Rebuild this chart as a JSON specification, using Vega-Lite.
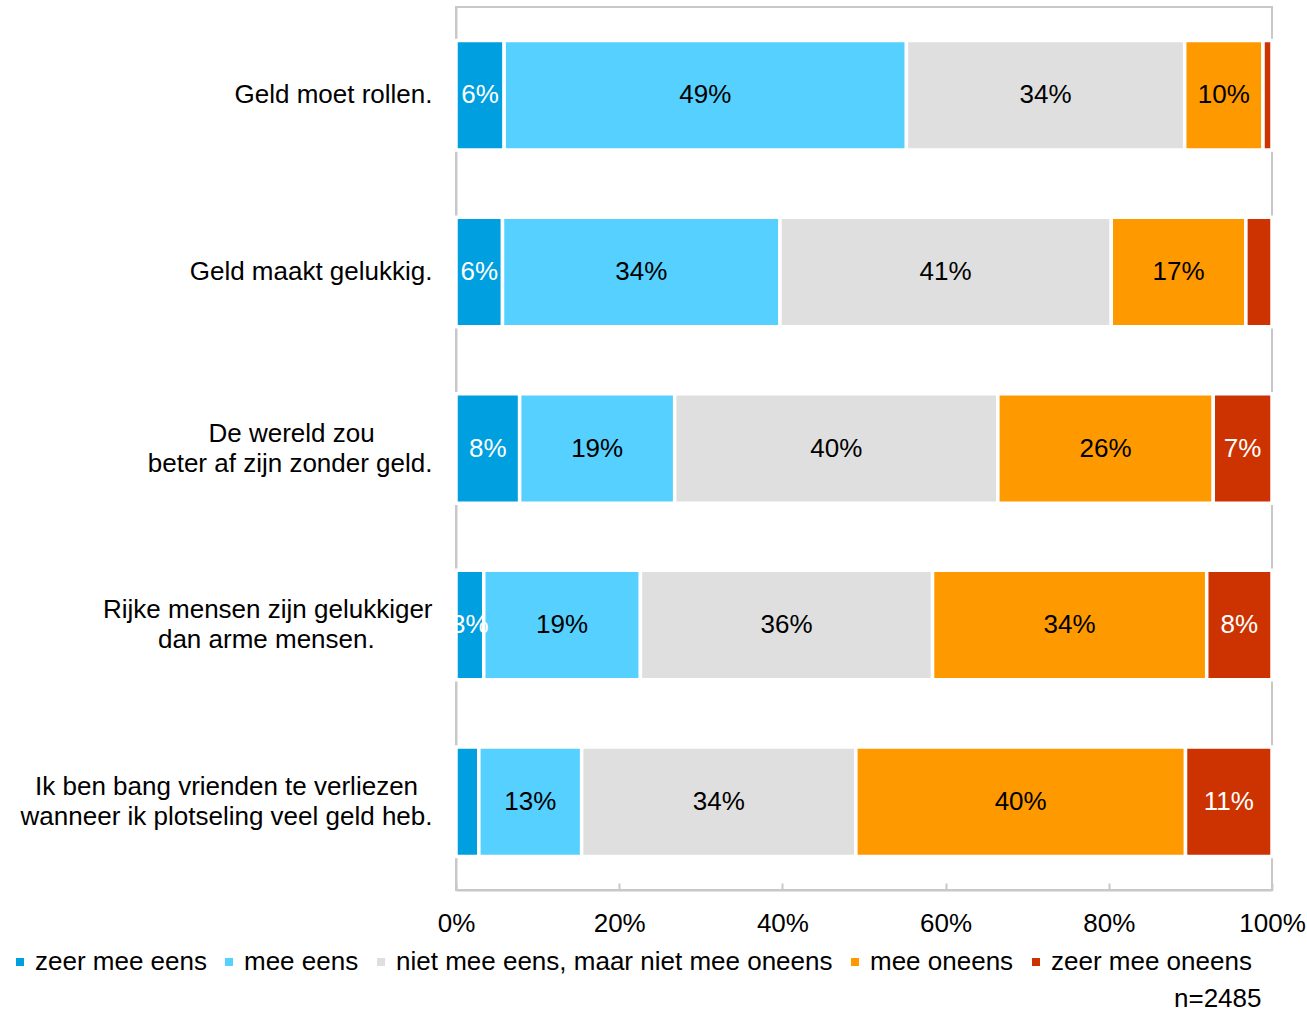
{
  "$schema": "https://vega.github.io/schema/vega-lite/v6.json",
  "width": 816,
  "height": 883,
  "autosize": {"type": "none"},
  "padding": {"left": 456, "top": 7, "right": 35, "bottom": 122},
  "background": "white",
  "config": {
    "font": "Liberation Sans",
    "view": {"stroke": "#c8c8c8", "strokeWidth": 2}
  },
  "data": {
    "values": [
      {"statement": "Geld moet rollen.", "answer": "zeer mee eens", "k": 1, "value": 5.9, "label": "6%"},
      {"statement": "Geld moet rollen.", "answer": "mee eens", "k": 2, "value": 49.3, "label": "49%"},
      {"statement": "Geld moet rollen.", "answer": "niet mee eens, maar niet mee oneens", "k": 3, "value": 34.1, "label": "34%"},
      {"statement": "Geld moet rollen.", "answer": "mee oneens", "k": 4, "value": 9.6, "label": "10%"},
      {"statement": "Geld moet rollen.", "answer": "zeer mee oneens", "k": 5, "value": 1.1, "label": ""},
      {"statement": "Geld maakt gelukkig.", "answer": "zeer mee eens", "k": 1, "value": 5.7, "label": "6%"},
      {"statement": "Geld maakt gelukkig.", "answer": "mee eens", "k": 2, "value": 34.0, "label": "34%"},
      {"statement": "Geld maakt gelukkig.", "answer": "niet mee eens, maar niet mee oneens", "k": 3, "value": 40.6, "label": "41%"},
      {"statement": "Geld maakt gelukkig.", "answer": "mee oneens", "k": 4, "value": 16.5, "label": "17%"},
      {"statement": "Geld maakt gelukkig.", "answer": "zeer mee oneens", "k": 5, "value": 3.2, "label": ""},
      {"statement": "De wereld zou\u00a0\u00a0\u00a0\u00a0\u00a0\u00a0\u00a0\u00a0\u200b|beter af zijn zonder geld.", "answer": "zeer mee eens", "k": 1, "value": 7.8, "label": "8%"},
      {"statement": "De wereld zou\u00a0\u00a0\u00a0\u00a0\u00a0\u00a0\u00a0\u00a0\u200b|beter af zijn zonder geld.", "answer": "mee eens", "k": 2, "value": 19.0, "label": "19%"},
      {"statement": "De wereld zou\u00a0\u00a0\u00a0\u00a0\u00a0\u00a0\u00a0\u00a0\u200b|beter af zijn zonder geld.", "answer": "niet mee eens, maar niet mee oneens", "k": 3, "value": 39.6, "label": "40%"},
      {"statement": "De wereld zou\u00a0\u00a0\u00a0\u00a0\u00a0\u00a0\u00a0\u00a0\u200b|beter af zijn zonder geld.", "answer": "mee oneens", "k": 4, "value": 26.4, "label": "26%"},
      {"statement": "De wereld zou\u00a0\u00a0\u00a0\u00a0\u00a0\u00a0\u00a0\u00a0\u200b|beter af zijn zonder geld.", "answer": "zeer mee oneens", "k": 5, "value": 7.2, "label": "7%"},
      {"statement": "Rijke mensen zijn gelukkiger|dan arme mensen.\u00a0\u00a0\u00a0\u00a0\u00a0\u00a0\u00a0\u00a0\u200b", "answer": "zeer mee eens", "k": 1, "value": 3.4, "label": "3%"},
      {"statement": "Rijke mensen zijn gelukkiger|dan arme mensen.\u00a0\u00a0\u00a0\u00a0\u00a0\u00a0\u00a0\u00a0\u200b", "answer": "mee eens", "k": 2, "value": 19.2, "label": "19%"},
      {"statement": "Rijke mensen zijn gelukkiger|dan arme mensen.\u00a0\u00a0\u00a0\u00a0\u00a0\u00a0\u00a0\u00a0\u200b", "answer": "niet mee eens, maar niet mee oneens", "k": 3, "value": 35.8, "label": "36%"},
      {"statement": "Rijke mensen zijn gelukkiger|dan arme mensen.\u00a0\u00a0\u00a0\u00a0\u00a0\u00a0\u00a0\u00a0\u200b", "answer": "mee oneens", "k": 4, "value": 33.6, "label": "34%"},
      {"statement": "Rijke mensen zijn gelukkiger|dan arme mensen.\u00a0\u00a0\u00a0\u00a0\u00a0\u00a0\u00a0\u00a0\u200b", "answer": "zeer mee oneens", "k": 5, "value": 8.0, "label": "8%"},
      {"statement": "Ik ben bang vrienden te verliezen\u00a0\u00a0\u200b|wanneer ik plotseling veel geld heb.", "answer": "zeer mee eens", "k": 1, "value": 2.8, "label": ""},
      {"statement": "Ik ben bang vrienden te verliezen\u00a0\u00a0\u200b|wanneer ik plotseling veel geld heb.", "answer": "mee eens", "k": 2, "value": 12.6, "label": "13%"},
      {"statement": "Ik ben bang vrienden te verliezen\u00a0\u00a0\u200b|wanneer ik plotseling veel geld heb.", "answer": "niet mee eens, maar niet mee oneens", "k": 3, "value": 33.6, "label": "34%"},
      {"statement": "Ik ben bang vrienden te verliezen\u00a0\u00a0\u200b|wanneer ik plotseling veel geld heb.", "answer": "mee oneens", "k": 4, "value": 40.4, "label": "40%"},
      {"statement": "Ik ben bang vrienden te verliezen\u00a0\u00a0\u200b|wanneer ik plotseling veel geld heb.", "answer": "zeer mee oneens", "k": 5, "value": 10.6, "label": "11%"}
    ]
  },
  "transform": [
    {"stack": "value", "groupby": ["statement"], "sort": [{"field": "k", "order": "ascending"}], "as": ["v0", "v1"]},
    {"calculate": "(datum.v0 + datum.v1) / 2", "as": "mid"}
  ],
  "encoding": {
    "y": {
      "field": "statement",
      "type": "nominal",
      "sort": null,
      "scale": {"paddingInner": 0.38, "paddingOuter": 0.19},
      "axis": {
        "title": null,
        "domain": true,
        "domainColor": "#c8c8c8",
        "domainWidth": 2,
        "ticks": false,
        "labelFontSize": 26,
        "labelColor": "black",
        "labelPadding": 24,
        "labelLimit": 0,
        "labelLineHeight": 30,
        "labelOffset": {"condition": {"test": "indexof(datum.label, '|') >= 0", "value": -15}, "value": 0},
        "labelExpr": "split(datum.label, '|')"
      }
    }
  },
  "layer": [
    {
      "mark": {"type": "bar", "stroke": "white", "strokeWidth": 3.5},
      "encoding": {
        "x": {
          "field": "v0",
          "type": "quantitative",
          "scale": {"domain": [0, 100], "nice": false},
          "axis": {
            "title": "n=2485",
            "values": [0, 20, 40, 60, 80, 100],
            "labelExpr": "datum.value + '%'",
            "labelFontSize": 26,
            "labelColor": "black",
            "labelFlush": false,
            "labelPadding": 27,
            "tickSize": -7,
            "tickColor": "#c8c8c8",
            "tickWidth": 2,
            "domainColor": "#c8c8c8",
            "domainWidth": 2,
            "grid": false,
            "titleFontSize": 26,
            "titleFontWeight": "normal",
            "titleColor": "black",
            "titleAlign": "right",
            "titleBaseline": "alphabetic",
            "titleX": 805,
            "titleY": 116
          }
        },
        "x2": {"field": "v1"},
        "color": {
          "field": "answer",
          "type": "nominal",
          "scale": {
            "domain": ["zeer mee eens", "mee eens", "niet mee eens, maar niet mee oneens", "mee oneens", "zeer mee oneens"],
            "range": ["#009FDF", "#55D0FF", "#DFDFDF", "#FF9900", "#CC3300"]
          },
          "legend": {
            "title": null,
            "orient": "none",
            "direction": "horizontal",
            "legendX": -449,
            "legendY": 942,
            "symbolType": "square",
            "symbolSize": 64,
            "symbolStrokeWidth": 0,
            "labelFontSize": 26,
            "labelColor": "black",
            "labelOffset": 2,
            "columnPadding": 9,
            "labelLimit": 0,
            "padding": 0
          }
        }
      }
    },
    {
      "mark": {"type": "text", "fontSize": 26, "font": "Liberation Sans"},
      "encoding": {
        "x": {
          "field": "mid",
          "type": "quantitative",
          "axis": {
            "title": "n=2485",
            "values": [0, 20, 40, 60, 80, 100],
            "labelExpr": "datum.value + '%'",
            "labelFontSize": 26,
            "labelColor": "black",
            "labelFlush": false,
            "labelPadding": 27,
            "tickSize": -7,
            "tickColor": "#c8c8c8",
            "tickWidth": 2,
            "domainColor": "#c8c8c8",
            "domainWidth": 2,
            "grid": false,
            "titleFontSize": 26,
            "titleFontWeight": "normal",
            "titleColor": "black",
            "titleAlign": "right",
            "titleBaseline": "alphabetic",
            "titleX": 805,
            "titleY": 116
          }
        },
        "text": {"field": "label"},
        "color": {
          "condition": {"test": "datum.k == 1 || datum.k == 5", "value": "white"},
          "value": "black"
        }
      }
    }
  ]
}
